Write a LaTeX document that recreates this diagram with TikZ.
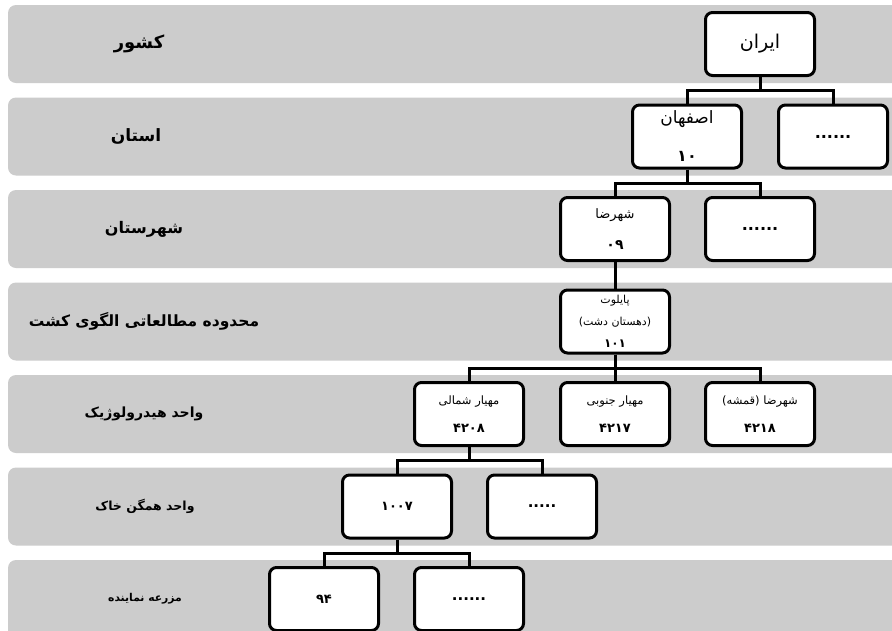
\documentclass[tikz,border=0pt]{standalone}
\usepackage{fontspec}
\usepackage{xcolor}
\TeXXeTstate=1
\newfontfamily\arabicfont[Script=Arabic]{DejaVu Sans}
\newcommand{\fatext}[1]{{\arabicfont\beginR #1\endR}}
\newcommand{\fanum}[2]{{\arabicfont\bfseries\fontsize{#1}{#1}\selectfont\beginR #2\endR}}
\definecolor{bandgray}{RGB}{204,204,204}
\tikzset{
  band/.style={fill=bandgray, rounded corners=8pt},
  unitbox/.style={draw=black, fill=white, line width=3pt, rounded corners=7pt,
    minimum width=109pt, minimum height=63pt, inner sep=0pt, align=center,
    font=\arabicfont\fontsize{#1}{#1}\selectfont},
  link/.style={line width=3pt},
  levellabel/.style={text=black}
}
\begin{document}
\begin{tikzpicture}[x=1pt, y=-1pt]
    \clip (0,0) rectangle (892,630);
    \fill[white] (0,0) rectangle (892,630);
    % level bands
    \foreach \y in {44,136.5,229,321.5,414,506.5,599} {
      \fill[band] (8,\y-39) rectangle (930,\y+39);
    }
    % level labels
    \foreach \nm/\x/\y/\sz/\txt in {
        lblcountry/139/44/18/کشور, lblprovince/136/136.5/17/استان,
        lblcounty/144/229/16/شهرستان, lblstudy/144/321.5/15.5/محدوده مطالعاتی الگوی کشت,
        lblhydro/144/414/14/واحد هیدرولوژیک, lblsoil/145/506.5/12.5/واحد همگن خاک,
        lblfarm/145/599/10.8/مزرعه نماینده} {
      \node[levellabel, font=\arabicfont\bfseries\fontsize{\sz}{\sz}\selectfont]
        (\nm) at (\x,\y) {\fatext{\txt}};
    }
    % country
    \node[unitbox=19] (iran) at (760,44) {\fatext{ایران}};
    % provinces
    \node[unitbox=17] (esf) at (687,136.5) {\fatext{اصفهان}\\[21pt]\fanum{16}{۱۰}};
    \node[unitbox=16] (dotsA) at (833,136.5) {\bfseries ......};
    % counties
    \node[unitbox=13] (shz) at (615,229) {\fatext{شهرضا}\\[18pt]\fanum{14}{۰۹}};
    \node[unitbox=16] (dotsB) at (760,229) {\bfseries ......};
    % study area
    \node[unitbox=11, font=\arabicfont\fontsize{11}{22}\selectfont] (pil) at (615,321.5)
      {\fatext{پایلوت}\\\fatext{(دهستان دشت)}\\\fanum{12}{۱۰۱}};
    % hydrologic units
    \node[unitbox=11.5] (mshm) at (469,414) {\fatext{مهیار شمالی}\\[17pt]\fanum{13}{۴۲۰۸}};
    \node[unitbox=11.5] (mjn) at (615,414) {\fatext{مهیار جنوبی}\\[17pt]\fanum{13}{۴۲۱۷}};
    \node[unitbox=11.5] (qms) at (760,414) {\fatext{شهرضا (قمشه)}\\[17pt]\fanum{13}{۴۲۱۸}};
    % soil units
    \node[unitbox=13] (soil) at (397,506.5) {\fanum{13}{۱۰۰۷}};
    \node[unitbox=15] (dotsC) at (542,506.5) {\bfseries .....};
    % farms
    \node[unitbox=13] (farm) at (324,599) {\fanum{13}{۹۴}};
    \node[unitbox=15] (dotsD) at (469,599) {\bfseries ......};
    % connectors
    \foreach \p/\c in {iran/esf, iran/dotsA, esf/shz, esf/dotsB, shz/pil,
                       pil/mshm, pil/mjn, pil/qms, mshm/soil, mshm/dotsC,
                       soil/farm, soil/dotsD} {
      \draw[link] (\p.south) -- ++(0,13.5) -| (\c.north);
    }
  \end{tikzpicture}
\end{document}
